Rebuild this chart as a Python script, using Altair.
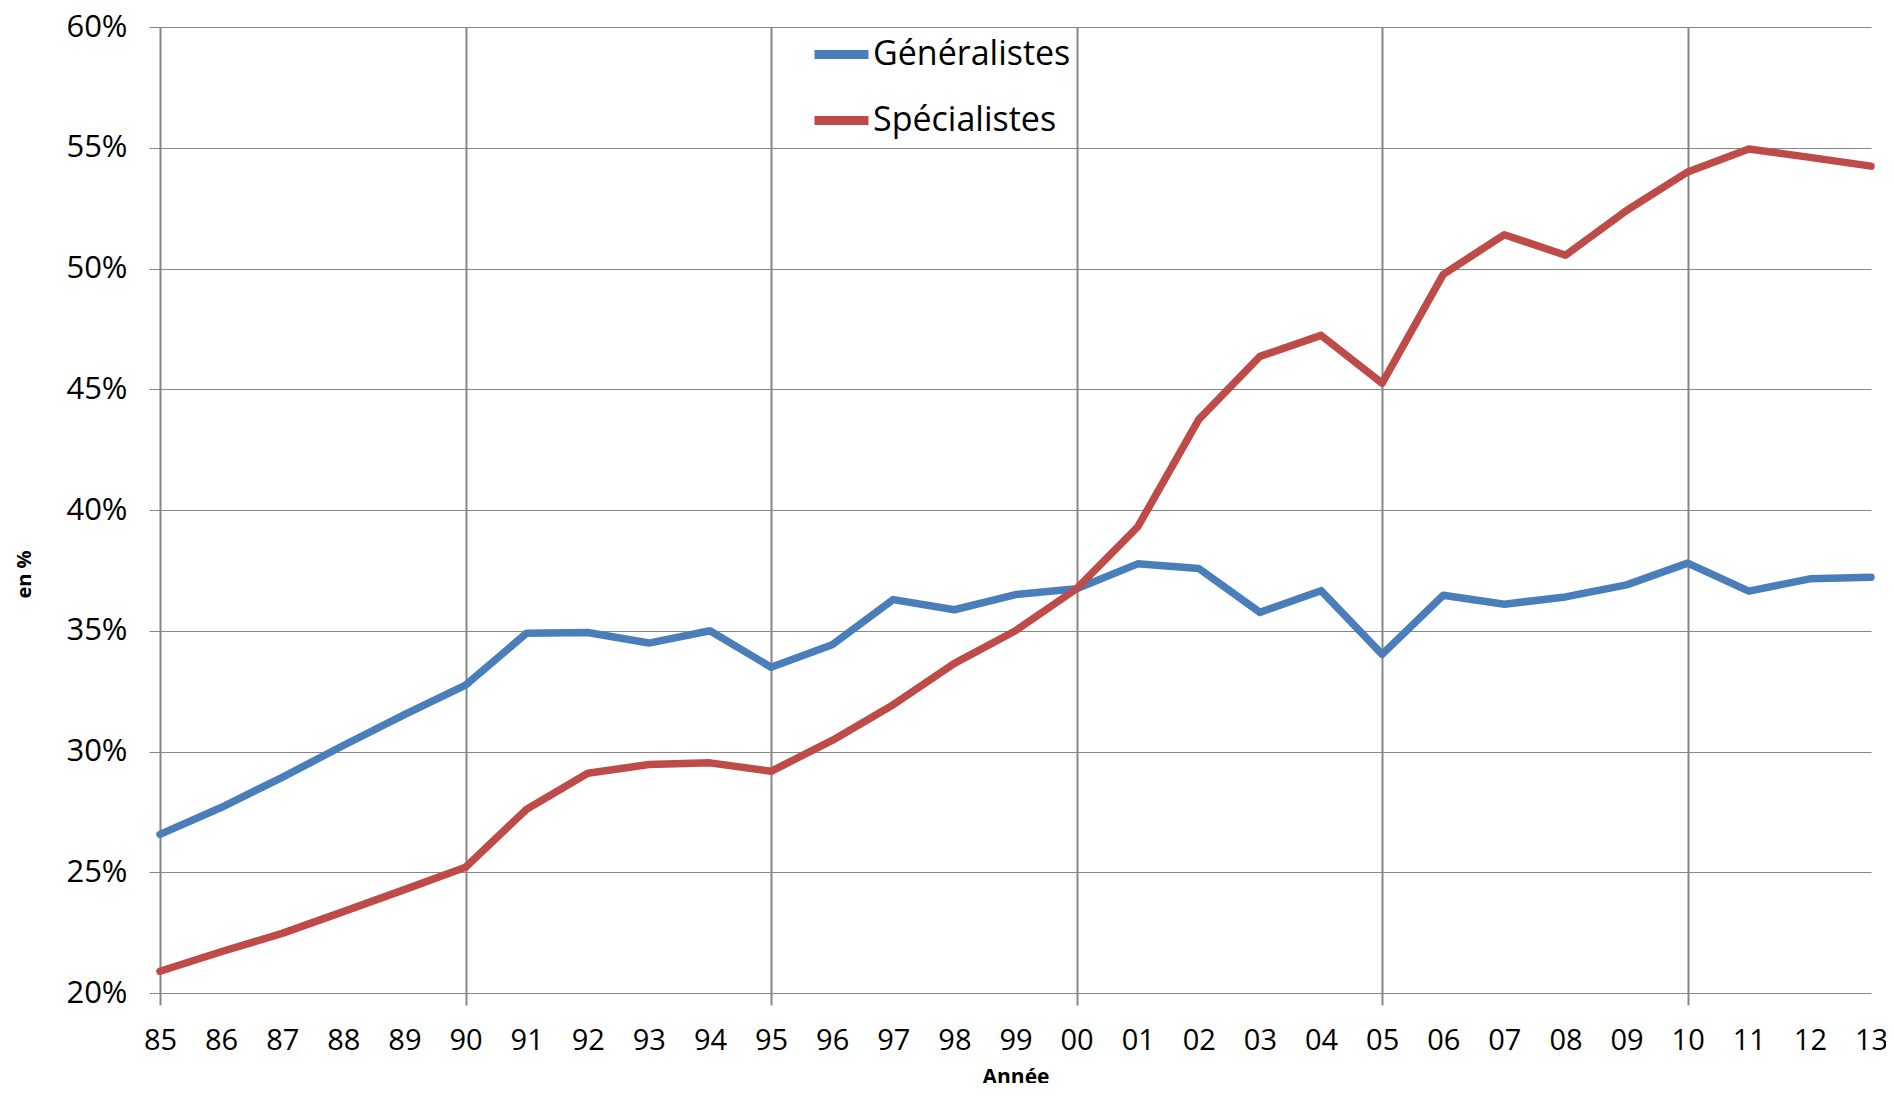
import altair as alt
import pandas as pd

years = list(range(1985, 2014))
series_names = ["Généralistes", "Spécialistes"]
generalistes = [26.57, 27.68, 28.93, 30.25, 31.53, 32.75, 34.90, 34.93, 34.49, 35.00,
                33.49, 34.42, 36.29, 35.87, 36.50, 36.74, 37.77, 37.58, 35.76, 36.66,
                34.02, 36.47, 36.10, 36.40, 36.90, 37.80, 36.64, 37.15, 37.22]
specialistes = [20.90, 21.71, 22.47, 23.37, 24.28, 25.21, 27.61, 29.10, 29.46, 29.53,
                29.18, 30.46, 31.94, 33.65, 35.00, 36.74, 39.30, 43.75, 46.36, 47.23,
                45.25, 49.76, 51.40, 50.55, 52.40, 54.00, 54.95, 54.60, 54.24]
y_ticks = [20, 25, 30, 35, 40, 45, 50, 55, 60]
grid_years = [1985, 1990, 1995, 2000, 2005, 2010]
colors = ["#4A7EBB", "#BE4B48"]

rows = []
for y, g, s in zip(years, generalistes, specialistes):
    rows.append({"annee": y, "serie": series_names[0], "valeur": g})
    rows.append({"annee": y, "serie": series_names[1], "valeur": s})
df = pd.DataFrame(rows)

FONT = "Open Sans"
GRID = "#868686"

xscale = alt.Scale(domain=[1985, 2013], nice=False, zero=False)
yscale = alt.Scale(domain=[20, 60], nice=False, zero=False)

y_axis = alt.Axis(
    values=y_ticks, labelExpr="datum.value + '%'", labelFont=FONT, labelFontSize=31,
    labelColor="black", labelPadding=22, tickSize=11, tickColor=GRID, tickWidth=1,
    domainColor=GRID, domainWidth=1, grid=True, gridColor=GRID, gridWidth=1,
    title="en %", titleFont=FONT, titleFontSize=20, titleFontWeight="bold",
    titleColor="black", titleX=-136, titleY=547, titleAngle=270,
    titleAlign="center", titleBaseline="middle",
)

lines = alt.Chart(df).mark_line(strokeWidth=7.5, strokeJoin="round", strokeCap="round").encode(
    x=alt.X("annee:Q", scale=xscale, axis=alt.Axis(
        orient="bottom", values=years,
        labelExpr="substring(toString(datum.value), 2, 4)",
        labelFont=FONT, labelFontSize=29, labelColor="black", labelPadding=33,
        ticks=False, tickSize=0, grid=False, domain=False, labelFlush=False,
        labelOverlap=False,
        title="Année", titleFont=FONT, titleFontSize=21, titleFontWeight="bold",
        titleColor="black", titleY=90, titleBaseline="alphabetic",
    )),
    y=alt.Y("valeur:Q", scale=yscale, axis=y_axis),
    color=alt.Color("serie:N", scale=alt.Scale(domain=series_names, range=colors),
                    legend=alt.Legend(
                        orient="none", legendX=650, legendY=-4, title=None,
                        symbolType="stroke", symbolSize=2916, symbolStrokeWidth=9,
                        labelFont=FONT, labelFontSize=34, labelColor="black",
                        labelOffset=0, rowPadding=16, padding=0, labelLimit=500,
                    )),
    order=alt.Order("annee:Q"),
)

gridlayer = alt.Chart(df).mark_line(opacity=0).encode(
    x=alt.X("annee:Q", scale=xscale, axis=alt.Axis(
        orient="bottom", values=grid_years, labels=False, ticks=True, tickSize=12,
        tickColor=GRID, tickWidth=2, grid=True, gridColor=GRID, gridWidth=2,
        domain=False, title="",
    )),
    y=alt.Y("valeur:Q", scale=yscale, axis=None),
    detail="serie:N",
)

chart = alt.layer(gridlayer, lines).resolve_axis(x="independent", y="independent").properties(
    width=1711, height=966,
    autosize=alt.AutoSizeParams(type="none"),
    padding={"left": 152, "top": 19, "right": 15, "bottom": 90},
).configure_view(strokeWidth=0)

chart.save("out.html", embed_options={"renderer": "svg", "actions": False})
